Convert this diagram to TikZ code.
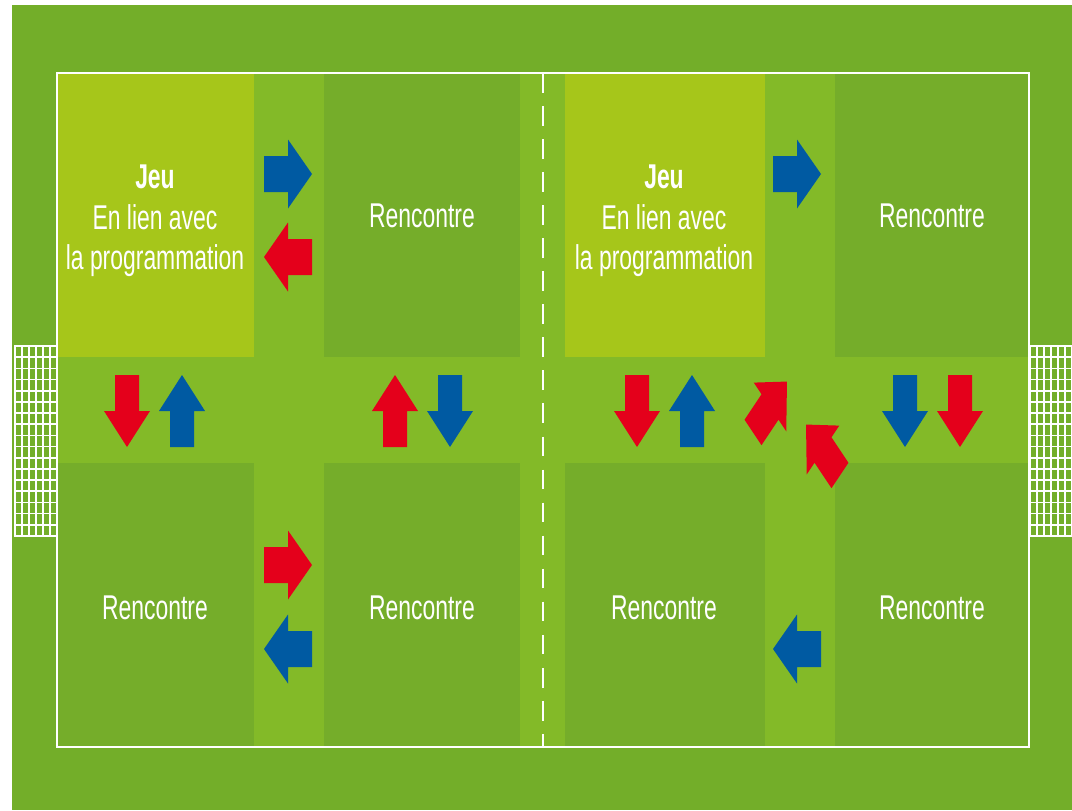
\documentclass[tikz,border=0pt]{standalone}
\usepackage{fontspec}
\setmainfont{Liberation Sans}
\usepackage{graphicx}
\definecolor{terrain}{RGB}{115,174,41}
\definecolor{bande}{RGB}{131,186,40}
\definecolor{zonejeu}{RGB}{166,198,26}
\definecolor{zonematch}{RGB}{117,173,42}
\definecolor{bleu}{RGB}{0,90,162}
\definecolor{rouge}{RGB}{228,0,27}
\newcommand{\etire}[1]{\scalebox{1}[1.5]{\begin{tabular}{@{}c@{}}#1\end{tabular}}}
\tikzset{
    ligne/.style = {white,line width=1.7pt},
    filet/.style = {white,line width=1.2pt},
    mitan/.style = {white,line width=1.7pt,dash pattern=on 14pt off 9.5pt},
    etiq/.style = {text=white,inner sep=0,font=\fontsize{16.3}{19}\selectfont}
}
\begin{document}
\begin{tikzpicture}[x=0.025cm,y=-0.025cm]
        \useasboundingbox (0,0) rectangle (1072,810);
        % Terrain
        \fill[terrain] (12,5) rectangle (1072,810);
        \fill[bande] (57,73) rectangle (1029,747);
        % Zones
        \fill[zonejeu] (57,73) rectangle (254,357);
        \fill[zonejeu] (565,73) rectangle (765,357);
        \foreach \xa/\ya/\xb/\yb in {324/73/520/357,835/73/1029/357,57/463/254/747,324/463/520/747,565/463/765/747,835/463/1029/747}
            \fill[zonematch] (\xa,\ya) rectangle (\xb,\yb);
        % Buts
        \foreach \gx in {15,22,...,57}
            \draw[filet] (\gx,346) -- (\gx,536);
        \foreach \gx in {1030,1037,...,1072}
            \draw[filet] (\gx,346) -- (\gx,536);
        \foreach \k in {0,...,17} {
            \draw[filet] (14,346+\k*190/17) -- (57,346+\k*190/17);
            \draw[filet] (1029,346+\k*190/17) -- (1072,346+\k*190/17);
        }
        % Lignes
        \draw[ligne] (57,73) rectangle (1029,747);
        \draw[mitan] (543,73) -- (543,747);
        % Fleches
        \foreach \px/\py/\ang/\col in {288/174/0/bleu,288/257/180/rouge,127/411/-90/rouge,182/411/90/bleu,395/411/90/rouge,450/411/-90/bleu,288/565/0/rouge,288/649/180/bleu,797/174/0/bleu,637/411/-90/rouge,692/411/90/bleu,770/407/45/rouge,823/450/135/rouge,905/411/-90/bleu,960/411/-90/rouge,797/649/180/bleu}
            \fill[\col,shift={(\px,\py)},yscale=1.5,rotate=\ang]
                (-24,-12) -- (0,-12) -- (0,-23) -- (24,0) -- (0,23) -- (0,12) -- (-24,12) -- cycle;
        % Textes
        \node[etiq] (jeuG) at (155,221) {\etire{\textbf{Jeu}\\En lien avec\\la programmation}};
        \node[etiq] (jeuD) at (664,221) {\etire{\textbf{Jeu}\\En lien avec\\la programmation}};
        \node[etiq] (matchA) at (422,219) {\etire{Rencontre}};
        \node[etiq] (matchB) at (932,219) {\etire{Rencontre}};
        \node[etiq] (matchC) at (155,611) {\etire{Rencontre}};
        \node[etiq] (matchD) at (422,611) {\etire{Rencontre}};
        \node[etiq] (matchE) at (664,611) {\etire{Rencontre}};
        \node[etiq] (matchF) at (932,611) {\etire{Rencontre}};
\end{tikzpicture}
\end{document}
